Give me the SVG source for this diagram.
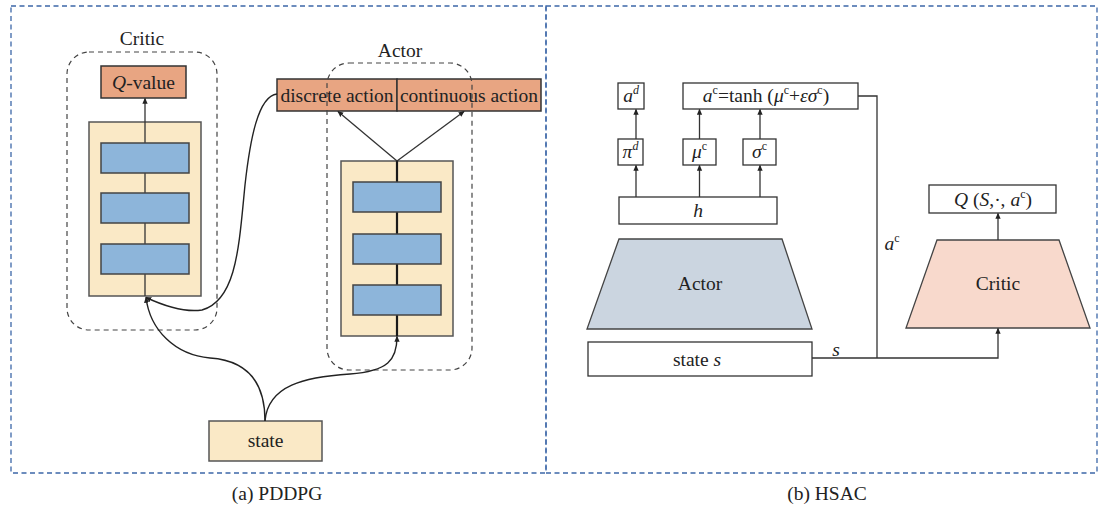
<svg xmlns="http://www.w3.org/2000/svg" width="1101" height="506" viewBox="0 0 1101 506">
  <defs>
    <marker id="arr" viewBox="0 0 8 8" refX="7" refY="4" markerWidth="6" markerHeight="6" markerUnits="userSpaceOnUse" orient="auto">
      <path d="M0,0.5 L8,4 L0,7.5 Z" fill="#222"/>
    </marker>
    <style>
      text { font-family: "Liberation Serif", "Times New Roman", serif; font-size: 19.5px; fill: #222; text-anchor: middle; }
      .it { font-style: italic; }
      .sup { font-size: 12px; }
      .panel { fill: none; stroke: #3c67a8; stroke-width: 1.3; stroke-dasharray: 5 3.5; }
      .group { fill: none; stroke: #444; stroke-width: 1.2; stroke-dasharray: 5 4; }
      .out { fill: #e8a582; stroke: #333; stroke-width: 1.5; }
      .body { fill: #fae9c6; stroke: #555; stroke-width: 1.5; }
      .layer { fill: #8db5da; stroke: #444; stroke-width: 1.5; }
      .plain { fill: #fff; stroke: #333; stroke-width: 1.3; }
      .line { fill: none; stroke: #333; stroke-width: 1.3; }
      .thick { fill: none; stroke: #1a1a1a; stroke-width: 2.2; }
      .curve { fill: none; stroke: #222; stroke-width: 1.4; }
    </style>
  </defs>

  <rect width="1101" height="506" fill="#fff"/>

  <!-- panel frames -->
  <g id="panels">
    <rect class="panel" x="11" y="6" width="535" height="467"/>
    <rect class="panel" x="546" y="6" width="551" height="467"/>
  </g>

  <!-- (a) PDDPG -->
  <g id="critic-a">
    <text x="142" y="45">Critic</text>
    <rect class="group" x="67" y="52" width="150" height="278" rx="22"/>
    <rect class="out" x="101" y="66" width="85" height="32"/>
    <text x="143.5" y="88.5"><tspan class="it">Q</tspan>-value</text>
    <rect class="body" x="89" y="122" width="112" height="174"/>
    <line class="line" x1="145" y1="296" x2="145" y2="122"/>
    <rect class="layer" x="101" y="143" width="88" height="30"/>
    <rect class="layer" x="101" y="193" width="88" height="30"/>
    <rect class="layer" x="101" y="244" width="88" height="30"/>
  </g>

  <g id="actor-a">
    <text x="400" y="57">Actor</text>
    <rect class="body" x="341" y="161" width="112" height="175"/>
    <line class="thick" x1="397" y1="336" x2="397" y2="161"/>
    <rect class="layer" x="353" y="182" width="88" height="30"/>
    <rect class="layer" x="353" y="234" width="88" height="30"/>
    <rect class="layer" x="353" y="285" width="88" height="30"/>
  </g>

  <g id="discrete-action">
    <rect class="out" x="277" y="79" width="120" height="32"/>
    <text x="337" y="101.5">discrete action</text>
  </g>

  <g id="continuous-action">
    <rect class="out" x="397" y="79" width="144" height="32"/>
    <text x="469" y="101.5">continuous action</text>
  </g>

  <g id="actor-group">
    <rect class="group" x="327" y="63" width="145" height="307" rx="22"/>
  </g>

  <g id="state-a">
    <rect class="body" x="209" y="421" width="113" height="40"/>
    <text x="265.5" y="447">state</text>
  </g>

  <text x="277" y="500">(a) PDDPG</text>

  <!-- (b) HSAC -->
  <g id="ad">
    <rect class="plain" x="618" y="83" width="26" height="26"/>
    <text x="631" y="102"><tspan class="it">a</tspan><tspan class="sup it" dy="-8">d</tspan></text>
  </g>
  <g id="ac">
    <rect class="plain" x="683" y="83" width="175" height="26"/>
    <text x="766" y="102"><tspan class="it">a</tspan><tspan class="sup" dy="-8">c</tspan><tspan dy="8">=tanh (</tspan><tspan class="it">μ</tspan><tspan class="sup" dy="-8">c</tspan><tspan dy="8">+</tspan><tspan class="it">εσ</tspan><tspan class="sup" dy="-8">c</tspan><tspan dy="8">)</tspan></text>
  </g>
  <g id="pid">
    <rect class="plain" x="618" y="139" width="25" height="26"/>
    <text x="630.5" y="158"><tspan class="it">π</tspan><tspan class="sup it" dy="-8">d</tspan></text>
  </g>
  <g id="muc">
    <rect class="plain" x="683" y="139" width="33" height="26"/>
    <text x="699.5" y="158"><tspan class="it">μ</tspan><tspan class="sup" dy="-8">c</tspan></text>
  </g>
  <g id="sigmac">
    <rect class="plain" x="743" y="139" width="33" height="26"/>
    <text x="759.5" y="158"><tspan class="it">σ</tspan><tspan class="sup" dy="-8">c</tspan></text>
  </g>
  <g id="h">
    <rect class="plain" x="619" y="197" width="158" height="27"/>
    <text x="698" y="217" class="it">h</text>
  </g>
  <g id="actor-b">
    <polygon points="619,239 782,239 812,329 587,329" fill="#cbd5e0" stroke="#444" stroke-width="1.3"/>
    <text x="700" y="290">Actor</text>
  </g>
  <g id="state-b">
    <rect class="plain" x="588" y="342" width="224" height="34"/>
    <text x="697" y="366">state <tspan class="it">s</tspan></text>
  </g>
  <g id="critic-b">
    <polygon points="937,240 1059,240 1090,328 906,328" fill="#f8d9cc" stroke="#444" stroke-width="1.3"/>
    <text x="998" y="290">Critic</text>
  </g>
  <g id="qvalue-b">
    <rect class="plain" x="929" y="185" width="127" height="28"/>
    <text x="993" y="206"><tspan class="it">Q</tspan> (<tspan class="it">S</tspan>,·, <tspan class="it">a</tspan><tspan class="sup" dy="-8">c</tspan><tspan dy="8">)</tspan></text>
  </g>

  <text x="827" y="500">(b) HSAC</text>

  <!-- connectors -->
  <g id="connectors">
    <!-- (a) -->
    <line class="line" x1="145" y1="122" x2="145" y2="98.5" marker-end="url(#arr)"/>
    <line class="line" x1="397" y1="161" x2="338" y2="111.5" marker-end="url(#arr)"/>
    <line class="line" x1="397" y1="161" x2="464" y2="111.5" marker-end="url(#arr)"/>
    <path class="curve" d="M277,94 C258,96 250,140 245,185 C239,245 237,300 202,310 C182,313 160,304 146,297.5" marker-end="url(#arr)"/>
    <path class="curve" d="M265,421 C265,375 240,360 210,358 C175,355 150,330 146,297.5" marker-end="url(#arr)"/>
    <path class="curve" d="M265,421 C268,385 305,377 350,374 C388,371 397,360 397,336.5" marker-end="url(#arr)"/>
    <!-- (b) -->
    <line class="line" x1="636" y1="197" x2="636" y2="165.5" marker-end="url(#arr)"/>
    <line class="line" x1="636" y1="139" x2="636" y2="109.5" marker-end="url(#arr)"/>
    <line class="line" x1="699.5" y1="197" x2="699.5" y2="165.5" marker-end="url(#arr)"/>
    <line class="line" x1="699.5" y1="139" x2="699.5" y2="109.5" marker-end="url(#arr)"/>
    <line class="line" x1="760" y1="197" x2="760" y2="165.5" marker-end="url(#arr)"/>
    <line class="line" x1="760" y1="139" x2="760" y2="109.5" marker-end="url(#arr)"/>
    <polyline class="line" points="858,96 877,96 877,358"/>
    <polyline class="line" points="812,358 998,358 998,328.5" marker-end="url(#arr)"/>
    <line class="line" x1="998" y1="240" x2="998" y2="213.5" marker-end="url(#arr)"/>
    <text x="836" y="356" class="it">s</text>
    <text x="892" y="250"><tspan class="it">a</tspan><tspan class="sup" dy="-8">c</tspan></text>
  </g>
</svg>
